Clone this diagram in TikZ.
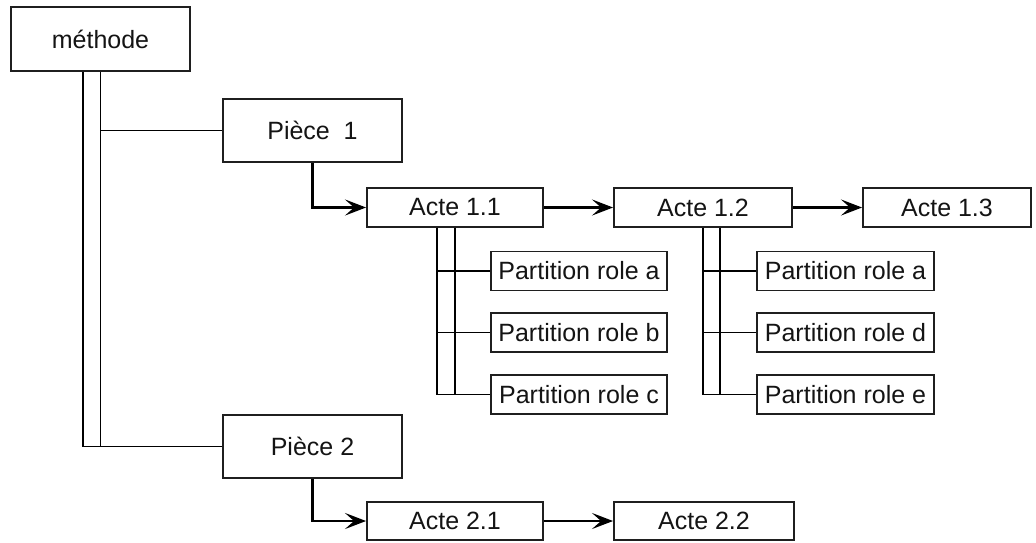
\documentclass[tikz,border=0pt]{standalone}
\usepackage{fontspec}
\setmainfont{Liberation Sans}
\usetikzlibrary{arrows.meta,calc}
\begin{document}
\begin{tikzpicture}[x=1pt,y=-1pt,
  box/.style={draw=black!88, line width=1.9pt, fill=white, inner sep=0pt,
    font=\fontsize{25}{30}\selectfont, text=black!92},
  big/.style={box, minimum width=179pt, minimum height=63pt},
  acte/.style={box, minimum width=176pt, minimum height=39pt},
  part/.style={box, minimum width=176pt, minimum height=39pt},
  link/.style={line width=1.9pt, draw=black},
  thin/.style={line width=1.4pt, draw=black},
  arr/.style={line width=2.8pt, draw=black, -{Stealth[length=21pt,width=16pt,inset=9pt]}}]
\useasboundingbox (0,0) rectangle (1036,542);
% nodes
\node[big, minimum height=64pt] (m) at (100.5,39) {méthode};
\node[big] (p1) at (312.5,130.5) {Pièce\ \ 1};
\node[big] (p2) at (312.5,446.5) {Pièce 2};
\node[acte] (a11) at (455,207.5) {Acte 1.1};
\node[acte, minimum width=178pt] (a12) at (703,207.5) {Acte 1.2};
\node[acte, minimum width=168pt] (a13) at (947,207.5) {Acte 1.3};
\node[part] (pa) at (579,271) {Partition role a};
\node[part] (pb) at (579,332.5) {Partition role b};
\node[part] (pc) at (579,394.5) {Partition role c};
\node[part, minimum width=177pt] (qa) at (845.5,271) {Partition role a};
\node[part, minimum width=177pt] (qd) at (845.5,332.5) {Partition role d};
\node[part, minimum width=177pt] (qe) at (845.5,394.5) {Partition role e};
\node[acte, minimum height=38pt] (a21) at (455,521) {Acte 2.1};
\node[acte, minimum height=38pt, minimum width=180pt] (a22) at (704,521) {Acte 2.2};
% coordinates at parent bottoms
\coordinate (mr) at (m.south);
\coordinate (ml) at ($(m.south)+(-17.5,0)$);
\coordinate (b1r) at (a11.south);
\coordinate (b1l) at ($(a11.south)+(-18,0)$);
\coordinate (b2l) at (a12.south);
\coordinate (b2r) at ($(a12.south)+(17,0)$);
% connectors methode
\draw[link] (mr) |- (p1.west);
\draw[thin] (mr) |- (p2.west);
\draw[link] (ml) |- (p2.west);
% children of Acte 1.1
\foreach \c in {pa,pb,pc} {
  \draw[thin] (b1l) |- (\c.west);
  \draw[thin] (b1r) |- (\c.west);
}
\draw[link] (b1l) -- (b1l |- pb.west);
\draw[link] (b1r) -- (b1r |- pb.west);
% children of Acte 1.2
\foreach \c in {qa,qd,qe} {
  \draw[thin] (b2l) |- (\c.west);
  \draw[thin] (b2r) |- (\c.west);
}
\draw[link] (b2l) -- (b2l |- qd.west);
\draw[link] (b2r) -- (b2r |- qd.west);
% arrows
\draw[arr] (p1.south) |- (a11.west);
\draw[arr] (a11) -- (a12);
\draw[arr] (a12) -- (a13);
\draw[arr] (p2.south) |- (a21.west);
\draw[arr] (a21) -- (a22);
\end{tikzpicture}
\end{document}
